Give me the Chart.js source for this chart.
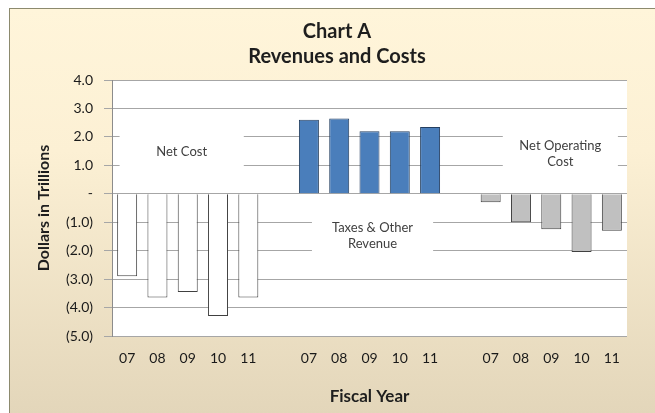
<!DOCTYPE html>
<html>
<head>
<meta charset="utf-8">
<script src="https://cdn.jsdelivr.net/npm/chart.js@4.4.0/dist/chart.umd.min.js"></script>
<style>
  html, body { margin: 0; padding: 0; background: #fff; }
  #frame {
    position: absolute; left: 9px; top: 8px; width: 646px; height: 405px;
    border-top: 1px solid #8c8a6e; border-left: 1px solid #8c8a6e;
    background: linear-gradient(to bottom, #fff5da 0%, #fcf0d4 35%, #e3d6ba 100%);
  }
  #wrap { position: absolute; left: 0; top: 0; width: 655px; height: 413px; }
</style>
</head>
<body>
<div id="frame"></div>
<div id="wrap"><canvas id="myChart" width="655" height="413"></canvas></div>
<script>
// fiscal years shown under each group
const years = ['07', '08', '09', '10', '11'];
// dollars in trillions
const netCost = [-2.9, -3.65, -3.45, -4.3, -3.65];
const taxesRevenue = [2.6, 2.65, 2.2, 2.2, 2.35];
const netOperatingCost = [-0.3, -1.0, -1.25, -2.05, -1.3];
const yMin = -5;
const yMax = 4;

// 3 groups of 5 with one empty slot between groups
const labels = [...years, '', ...years, '', ...years];

const place = (values, group) => {
  const out = labels.map(() => null);
  values.forEach((v, i) => { out[group * 6 + i] = v; });
  return out;
};

const fmt = v => {
  if (v === 0) return '-';
  if (v < 0) return '(' + Math.abs(v).toFixed(1) + ')';
  return v.toFixed(1);
};

// text boxes inside the plot (x in category slots, y in data units)
const notes = [
  { lines: ['Net Cost'], x: 1.8, y: 1.46, w: 4.1, top: 2.4, bottom: 0.5 },
  { lines: ['Taxes & Other', 'Revenue'], x: 8.1, y: -1.49, w: 4.0, top: -0.6, bottom: -2.4 },
  { lines: ['Net Operating', 'Cost'], x: 14.3, y: 1.41, w: 3.8, top: 2.4, bottom: 0.5 }
];

const plotBg = {
  id: 'plotBg',
  beforeDraw(chart) {
    const { ctx, chartArea: a } = chart;
    ctx.save();
    ctx.fillStyle = '#ffffff';
    ctx.fillRect(a.left, a.top, a.right - a.left, a.bottom - a.top);
    ctx.restore();
  }
};

const notesPlugin = {
  id: 'notes',
  beforeDatasetsDraw(chart) {
    const { ctx, scales: { x, y } } = chart;
    const slot = x.getPixelForValue(1) - x.getPixelForValue(0);
    ctx.save();
    notes.forEach(n => {
      const cx = x.getPixelForValue(0) + n.x * slot;
      const top = y.getPixelForValue(n.top);
      const bottom = y.getPixelForValue(n.bottom);
      ctx.fillStyle = '#ffffff';
      ctx.fillRect(cx - n.w * slot / 2, top, n.w * slot, bottom - top);
      ctx.fillStyle = '#404040';
      ctx.font = '13px Lato';
      ctx.textAlign = 'center';
      ctx.textBaseline = 'middle';
      const cy = y.getPixelForValue(n.y);
      const lh = 16;
      n.lines.forEach((t, i) => {
        ctx.fillText(t, cx, cy + (i - (n.lines.length - 1) / 2) * lh);
      });
    });
    ctx.restore();
  }
};

const titlePlugin = {
  id: 'twoLineTitle',
  afterDraw(chart) {
    const { ctx } = chart;
    ctx.save();
    ctx.fillStyle = '#1e1e1e';
    ctx.font = 'bold 20px Lato';
    ctx.textAlign = 'center';
    ctx.textBaseline = 'middle';
    ctx.fillText('Chart A', 337, 32);
    ctx.fillText('Revenues and Costs', 337, 57);
    ctx.restore();
  }
};

const ctx = document.getElementById('myChart').getContext('2d');
new Chart(ctx, {
  type: 'bar',
  data: {
    labels: labels,
    datasets: [
      {
        label: 'Net Cost',
        data: place(netCost, 0),
        backgroundColor: '#ffffff',
        borderColor: '#404040',
        borderWidth: 1
      },
      {
        label: 'Taxes & Other Revenue',
        data: place(taxesRevenue, 1),
        backgroundColor: '#4a7ebb',
        borderColor: '#243f60',
        borderWidth: 1
      },
      {
        label: 'Net Operating Cost',
        data: place(netOperatingCost, 2),
        backgroundColor: '#c0c0c0',
        borderColor: '#404040',
        borderWidth: 1
      }
    ]
  },
  options: {
    responsive: false,
    animation: false,
    layout: { padding: { top: 80, right: 28, left: 0, bottom: 0 } },
    datasets: { bar: { categoryPercentage: 1, barPercentage: 0.66 } },
    plugins: { legend: { display: false }, tooltip: { enabled: false } },
    scales: {
      x: {
        stacked: true,
        grid: { display: false, drawTicks: false },
        border: { display: false },
        ticks: { color: '#1a1a1a', font: { family: 'Lato', size: 14 }, padding: 14, maxRotation: 0, autoSkip: false },
        title: {
          display: true, text: 'Fiscal Year', color: '#1e1e1e',
          font: { family: 'Lato', size: 17, weight: 'bold' },
          padding: { top: 0, bottom: 6 }
        },
        afterFit(scale) { scale.height = 77; }
      },
      y: {
        min: yMin,
        max: yMax,
        grid: { color: '#a6a6a6', tickLength: 8, lineWidth: 1 },
        border: { display: true, color: '#8c8c8c' },
        ticks: {
          stepSize: 1, color: '#1a1a1a', padding: 11,
          font: { family: 'Lato', size: 14 },
          callback: v => fmt(v)
        },
        title: {
          display: true, text: 'Dollars in Trillions', color: '#1e1e1e',
          font: { family: 'Lato', size: 16, weight: 'bold' },
          padding: { top: 34, bottom: 0 }
        },
        afterFit(scale) { scale.width = 112; }
      }
    }
  },
  plugins: [plotBg, notesPlugin, titlePlugin]
});
</script>
</body>
</html>
